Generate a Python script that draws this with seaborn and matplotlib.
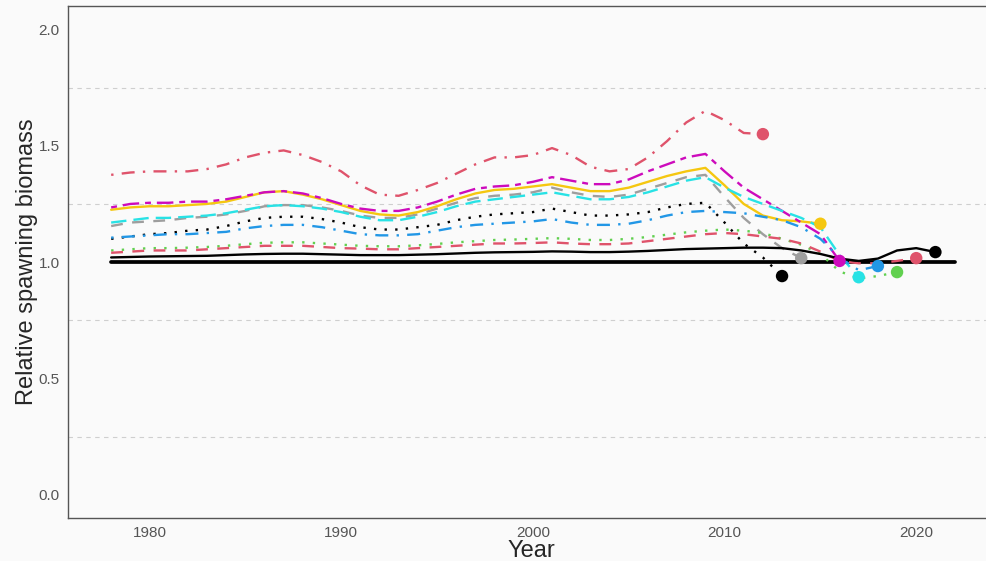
import pandas as pd
import numpy as np
import matplotlib
matplotlib.use('Agg')
import matplotlib.pyplot as plt
import seaborn as sns
import warnings
warnings.filterwarnings('ignore')

# values (relative spawning biomass by year)
start_year = 1978
peel_names = ['2021', '2020', '2019', '2018', '2017', '2016', '2015', '2014', '2013', '2012']

base_2021 = [1.020, 1.022, 1.024, 1.025, 1.026, 1.027, 1.030, 1.033, 1.035, 1.036,
             1.036, 1.034, 1.032, 1.030, 1.030, 1.030, 1.032, 1.034, 1.037, 1.040,
             1.042, 1.043, 1.044, 1.046, 1.045, 1.043, 1.043, 1.045, 1.048, 1.052,
             1.056, 1.058, 1.060, 1.062, 1.062, 1.060, 1.050, 1.035, 1.015, 1.005,
             1.015, 1.050, 1.060, 1.043]
peel_2020 = [1.040, 1.045, 1.050, 1.050, 1.050, 1.055, 1.060, 1.065, 1.070, 1.070,
             1.070, 1.065, 1.060, 1.058, 1.055, 1.055, 1.060, 1.065, 1.070, 1.075,
             1.080, 1.080, 1.082, 1.085, 1.080, 1.077, 1.077, 1.080, 1.090, 1.100,
             1.110, 1.120, 1.125, 1.120, 1.110, 1.100, 1.080, 1.045, 1.005, 0.995,
             0.995, 1.005, 1.017]
peel_2019 = [1.050, 1.055, 1.060, 1.060, 1.062, 1.065, 1.070, 1.077, 1.083, 1.085,
             1.085, 1.080, 1.075, 1.070, 1.068, 1.068, 1.072, 1.078, 1.085, 1.090,
             1.095, 1.097, 1.100, 1.103, 1.100, 1.095, 1.095, 1.100, 1.108, 1.118,
             1.128, 1.135, 1.140, 1.135, 1.125, 1.100, 1.075, 1.035, 0.960, 0.930,
             0.940, 0.957]
peel_2018 = [1.105, 1.110, 1.115, 1.120, 1.120, 1.125, 1.130, 1.145, 1.155, 1.160,
             1.160, 1.150, 1.135, 1.120, 1.115, 1.115, 1.120, 1.135, 1.150, 1.160,
             1.165, 1.170, 1.175, 1.185, 1.170, 1.160, 1.160, 1.165, 1.180, 1.200,
             1.215, 1.220, 1.215, 1.210, 1.195, 1.180, 1.150, 1.100, 1.020, 0.965,
             0.983]
peel_2017 = [1.170, 1.180, 1.190, 1.190, 1.195, 1.200, 1.210, 1.225, 1.240, 1.245,
             1.240, 1.230, 1.215, 1.195, 1.180, 1.180, 1.195, 1.215, 1.240, 1.260,
             1.270, 1.280, 1.290, 1.300, 1.285, 1.270, 1.270, 1.280, 1.300, 1.325,
             1.350, 1.365, 1.320, 1.280, 1.250, 1.220, 1.190, 1.150, 1.030, 0.935]
peel_2016 = [1.235, 1.250, 1.255, 1.255, 1.260, 1.260, 1.270, 1.285, 1.300, 1.305,
             1.295, 1.275, 1.250, 1.230, 1.220, 1.220, 1.235, 1.260, 1.290, 1.315,
             1.325, 1.330, 1.345, 1.365, 1.350, 1.335, 1.335, 1.355, 1.390, 1.420,
             1.450, 1.465, 1.390, 1.320, 1.270, 1.220, 1.170, 1.120, 1.005]
peel_2015 = [1.225, 1.235, 1.240, 1.240, 1.245, 1.250, 1.260, 1.280, 1.300, 1.305,
             1.290, 1.270, 1.245, 1.220, 1.205, 1.200, 1.215, 1.240, 1.270, 1.295,
             1.310, 1.315, 1.325, 1.335, 1.320, 1.305, 1.305, 1.320, 1.345, 1.370,
             1.390, 1.405, 1.330, 1.250, 1.200, 1.180, 1.175, 1.165]
peel_2014 = [1.155, 1.170, 1.175, 1.180, 1.190, 1.195, 1.205, 1.220, 1.240, 1.245,
             1.245, 1.235, 1.220, 1.200, 1.190, 1.190, 1.205, 1.230, 1.255, 1.275,
             1.285, 1.290, 1.300, 1.320, 1.300, 1.285, 1.280, 1.290, 1.315, 1.340,
             1.365, 1.375, 1.280, 1.190, 1.120, 1.060, 1.017]
peel_2013 = [1.100, 1.110, 1.120, 1.125, 1.135, 1.140, 1.155, 1.175, 1.190, 1.195,
             1.195, 1.185, 1.170, 1.150, 1.140, 1.140, 1.150, 1.160, 1.180, 1.195,
             1.205, 1.210, 1.215, 1.230, 1.215, 1.200, 1.200, 1.205, 1.215, 1.235,
             1.250, 1.255, 1.170, 1.080, 1.020, 0.940]
peel_2012 = [1.375, 1.385, 1.390, 1.390, 1.390, 1.400, 1.420, 1.450, 1.470, 1.480,
             1.460, 1.430, 1.390, 1.330, 1.290, 1.285, 1.310, 1.340, 1.380, 1.420,
             1.450, 1.450, 1.460, 1.490, 1.460, 1.410, 1.390, 1.400, 1.450, 1.520,
             1.600, 1.650, 1.610, 1.555, 1.550]

ref_years = [1978, 2022]
ref_values = [1.0, 1.0]

series = [base_2021, peel_2020, peel_2019, peel_2018, peel_2017,
          peel_2016, peel_2015, peel_2014, peel_2013, peel_2012]

# R default palette + lty 1:6 recycled, like the retro plot
colors = ['#000000', '#DF536B', '#61D04F', '#2297E6', '#28E2E5',
          '#CD0BBC', '#F5C710', '#9E9E9E', '#000000', '#DF536B']
dash_list = ['', (5, 4), (1, 3.5), (1, 3.5, 5.5, 3.5), (6.5, 3),
             (2.5, 2.5, 7, 2.5), '', (5, 4), (1, 3.5), (1, 3.5, 5.5, 3.5)]

rows = []
for name, vals in zip(peel_names, series):
    for i, v in enumerate(vals):
        rows.append({'Peel': name, 'Year': start_year + i, 'SSB': v})
df = pd.DataFrame(rows)
ends = df.groupby('Peel').tail(1)

palette = dict(zip(peel_names, colors))
dashes = dict(zip(peel_names, dash_list))

sns.set_theme(style='white')
plt.rcParams['font.family'] = ['Liberation Sans Narrow', 'Liberation Sans', 'DejaVu Sans']

bg = '#fafafa'
fig = plt.figure(figsize=(9.86, 5.61), dpi=100, facecolor=bg)
ax = fig.add_axes([0.069, 0.0766, 0.931, 0.9124])
ax.set_facecolor(bg)

for y in [0.25, 0.75, 1.25, 1.75]:
    ax.axhline(y, color='#cfcfcf', linewidth=0.8, linestyle=(0, (4, 4)), zorder=0)

sns.lineplot(x=ref_years, y=ref_values, color='black', linewidth=2.7, ax=ax, zorder=1)
sns.lineplot(data=df, x='Year', y='SSB', hue='Peel', style='Peel',
             hue_order=peel_names[::-1], style_order=peel_names[::-1],
             palette=palette, dashes=dashes, linewidth=1.7,
             legend=False, ax=ax, zorder=2)
sns.scatterplot(data=ends, x='Year', y='SSB', hue='Peel', palette=palette,
                s=80, linewidth=0, legend=False, ax=ax, zorder=3)

ax.set_xlim(1975.75, 2023.64)
ax.set_ylim(-0.1, 2.1)
ax.set_xticks([1980, 1990, 2000, 2010, 2020])
ax.set_yticks([0.0, 0.5, 1.0, 1.5, 2.0])
ax.set_yticklabels(['0.0', '0.5', '1.0', '1.5', '2.0'])
ax.tick_params(axis='both', direction='out', length=4, width=0.8,
               color='#555555', labelcolor='#555555', labelsize=11, pad=2)
for sp in ax.spines.values():
    sp.set_color('#555555')
    sp.set_linewidth(1.0)
ax.spines['right'].set_visible(False)

ax.set_xlabel('Year', fontsize=17, family=['Liberation Sans Narrow', 'Liberation Sans'])
ax.set_ylabel('Relative spawning biomass', fontsize=17, family=['Liberation Sans'])
ax.xaxis.set_label_coords(0.505, -0.043)
ax.yaxis.set_label_coords(-0.033, 0.5)

plt.savefig('out.png', dpi=100, facecolor=bg)
